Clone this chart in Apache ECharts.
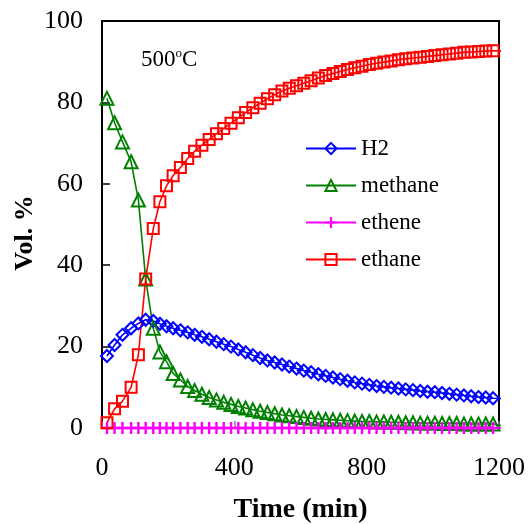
<!DOCTYPE html>
<html>
<head>
<meta charset="utf-8">
<script src="https://cdn.jsdelivr.net/npm/echarts@6/dist/echarts.min.js"></script>
<style>
html,body{margin:0;padding:0;background:#fff;}
#chart{width:531px;height:524px;}
</style>
</head>
<body>
<div id="chart"></div>
<script>
// Time (min)
var times = [15, 38, 62, 88, 110, 132, 155, 175, 195, 215, 237, 259,
  280, 302, 324, 346, 368, 390, 412, 434, 456, 478,
  500, 522, 544, 566, 588, 610, 632, 654, 676, 698,
  720, 742, 764, 786, 808, 830, 852, 874, 896, 918,
  940, 962, 984, 1006, 1028, 1050, 1072, 1094, 1116, 1138,
  1160, 1182, 1225];
var h2 = [17.7, 20.4, 22.9, 24.5, 25.7, 26.6, 26.3, 25.6, 25.0, 24.5, 24.0, 23.5,
  22.9, 22.4, 21.8, 21.2, 20.6, 20.0, 19.3, 18.6, 17.9, 17.2,
  16.6, 16.1, 15.6, 15.1, 14.6, 14.1, 13.7, 13.2, 12.8, 12.4,
  12.0, 11.6, 11.2, 10.9, 10.6, 10.3, 10.1, 9.9, 9.7, 9.5,
  9.3, 9.1, 8.9, 8.8, 8.6, 8.4, 8.2, 8.0, 7.8, 7.6,
  7.5, 7.3, 7.2];
var methane = [81.0, 75.0, 70.3, 65.4, 56.0, 36.6, 24.5, 18.7, 16.3, 13.4, 11.8, 10.2,
  9.2, 8.3, 7.5, 6.9, 6.3, 5.8, 5.3, 4.9, 4.5, 4.1,
  3.8, 3.5, 3.2, 3.0, 2.8, 2.6, 2.4, 2.2, 2.1, 2.0,
  1.9, 1.8, 1.7, 1.6, 1.6, 1.5, 1.5, 1.4, 1.4, 1.3,
  1.3, 1.2, 1.2, 1.2, 1.1, 1.1, 1.1, 1.0, 1.0, 1.0,
  1.0, 1.0, 0.3];
var ethene = [0, 0, 0, 0, 0, 0, 0, 0, 0, 0, 0, 0,
  0, 0, 0, 0, 0, 0, 0, 0, 0, 0,
  0, 0, 0, 0, 0, 0, 0, 0, 0, 0,
  0, 0, 0, 0, 0, 0, 0, 0, 0, 0,
  0, 0, 0, 0, 0, 0, 0, 0, 0, 0,
  0, 0, 0];
var ethane = [1.3, 4.7, 6.6, 10.0, 18.0, 36.6, 49.0, 55.6, 59.5, 62.0, 64.0, 66.2,
  68.0, 69.5, 70.9, 72.3, 73.6, 74.9, 76.2, 77.5, 78.7, 79.8,
  80.9, 81.9, 82.8, 83.5, 84.1, 84.7, 85.3, 86.0, 86.6, 87.1,
  87.6, 88.1, 88.5, 88.9, 89.3, 89.6, 89.9, 90.2, 90.5, 90.7,
  90.9, 91.1, 91.3, 91.5, 91.7, 91.9, 92.1, 92.3, 92.4, 92.5,
  92.6, 92.7, 92.5];
var seriesNames = ['H2', 'methane', 'ethene', 'ethane'];
var xTicks = [0, 400, 800, 1200];
var yTicks = [0, 20, 40, 60, 80, 100];

var FONT = 'Liberation Serif';
var plusPath = 'path://M4,0 H6 V4 H10 V6 H6 V10 H4 V6 H0 V4 H4 Z';

function pts(vals) {
  return times.map(function (t, i) {
    var d = { value: [t, vals[i]] };
    if (t > 1200) d.symbol = 'none';
    return d;
  });
}

function mk(name, vals, color, symbol, size, filled) {
  return {
    name: name,
    type: 'line',
    data: pts(vals),
    clip: false,
    symbol: symbol,
    symbolSize: size,
    showAllSymbol: true,
    lineStyle: { color: color, width: 1.6 },
    itemStyle: filled ? { color: color, borderWidth: 0 } :
      { color: 'rgba(255,255,255,0)', borderColor: color, borderWidth: 2 },
    emphasis: { disabled: true },
    animation: false
  };
}

var chart = echarts.init(document.getElementById('chart'));
chart.setOption({
  backgroundColor: '#fff',
  animation: false,
  grid: { left: 102, right: 32, top: 21, bottom: 96, outerBoundsMode: 'none', containLabel: false, show: true, borderColor: '#000', borderWidth: 2, backgroundColor: 'transparent' },
  legend: {
    orient: 'vertical',
    left: 305,
    top: 137,
    padding: 0,
    itemWidth: 50,
    itemHeight: 14,
    itemGap: 14,
    data: seriesNames,
    textStyle: { fontFamily: FONT, fontSize: 23, color: '#000' }
  },
  xAxis: {
    type: 'value',
    min: xTicks[0],
    max: xTicks[xTicks.length - 1],
    interval: xTicks[1] - xTicks[0],
    name: 'Time (min)',
    nameLocation: 'middle',
    nameGap: 68,
    nameTextStyle: { fontFamily: FONT, fontSize: 28, fontWeight: 'bold', color: '#000' },
    axisLine: { show: true, lineStyle: { color: '#000', width: 2 } },
    axisTick: { show: true, inside: true, length: 7, lineStyle: { color: '#888', width: 1.5 } },
    axisLabel: { fontFamily: FONT, fontSize: 26, color: '#000', margin: 27, formatter: function (v) { return String(v); } },
    splitLine: { show: false }
  },
  yAxis: {
    type: 'value',
    min: yTicks[0],
    max: yTicks[yTicks.length - 1],
    interval: yTicks[1] - yTicks[0],
    axisLine: { show: true, lineStyle: { color: '#000', width: 2 } },
    axisTick: { show: true, inside: true, length: 8, lineStyle: { color: '#000', width: 1.5 } },
    axisLabel: { fontFamily: FONT, fontSize: 26, color: '#000', margin: 19, formatter: function (v) { return String(v); } },
    splitLine: { show: false }
  },
  graphic: [{
    type: 'text',
    left: 141,
    top: 47,
    style: {
      text: '{a|500}{b|o}{a|C}',
      rich: {
        a: { fontFamily: FONT, fontSize: 23, fill: '#000', lineHeight: 26 },
        b: { fontFamily: FONT, fontSize: 13, fill: '#000', lineHeight: 26, padding: [0, 0, 13, 0] }
      }
    }
  }, {
    type: 'text',
    x: 25,
    y: 233,
    rotation: Math.PI / 2,
    style: {
      text: 'Vol. %',
      fontFamily: FONT,
      fontSize: 26,
      fontWeight: 'bold',
      fill: '#000',
      textAlign: 'center',
      textVerticalAlign: 'middle'
    }
  }],
  series: [
    mk(seriesNames[0], h2, '#0000FF', 'diamond', 12, false),
    mk(seriesNames[1], methane, '#008000', 'triangle', 13, false),
    mk(seriesNames[2], ethene, '#FF00FF', plusPath, 12, true),
    mk(seriesNames[3], ethane, '#FF0000', 'rect', 11, false)
  ]
});
</script>
</body>
</html>
